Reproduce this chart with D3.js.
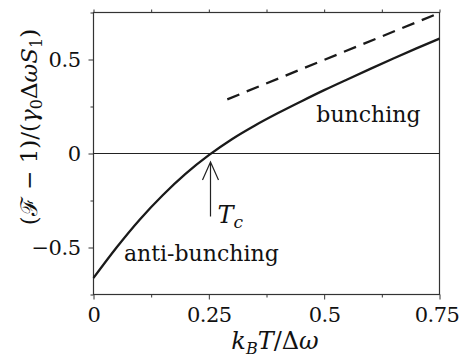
<!DOCTYPE html>
<html>
<head>
<meta charset="utf-8">
<script src="https://cdnjs.cloudflare.com/ajax/libs/d3/7.8.5/d3.min.js"></script>
<style>
  body { margin: 0; background: #fff; }
  svg { display: block; }
  svg text { font-family: "DejaVu Serif", serif; fill: #111; }
  .tick text { font-size: 21px; letter-spacing: -0.5px; }
  .tick line { stroke: #333; }
  .curve { fill: none; stroke: #1a1a1a; stroke-width: 2.3; }
</style>
</head>
<body>
<script>
// solid curve: (F-1)/(gamma0 dw S1) vs kB T / dw
const temp   = [0, 0.05, 0.1, 0.15, 0.2, 0.25, 0.3, 0.35, 0.4, 0.45, 0.5, 0.55, 0.6, 0.65, 0.7, 0.75];
const excess = [-0.662, -0.5, -0.352, -0.222, -0.107, -0.009, 0.076, 0.149, 0.215, 0.277, 0.337, 0.394, 0.45, 0.505, 0.559, 0.611];

// dashed high-temperature asymptote
const asymTemp   = [0.29, 0.75];
const asymExcess = [0.288, 0.748];

const xTicks = [0, 0.25, 0.5, 0.75];
const xTickLabels = ["0", "0.25", "0.5", "0.75"];
const xMinor = [0.125, 0.375, 0.625];
const yTicks = [-0.5, 0, 0.5];
const yTickLabels = ["\u22120.5", "0", "0.5"];
const yMinor = [-0.75, -0.25, 0.25, 0.75];
const tc = 0.254;

const W = 461, H = 358;
const margin = {top: 12, right: 22, bottom: 64, left: 93};
const width = W - margin.left - margin.right,
      height = H - margin.top - margin.bottom;

const svg = d3.select("body").append("svg")
  .attr("width", W).attr("height", H);
const g = svg.append("g")
  .attr("transform", "translate(" + (margin.left + 0.5) + "," + (margin.top + 0.5) + ")");

const x = d3.scaleLinear().domain([0, 0.75]).range([0, width]);
const y = d3.scaleLinear().domain([-0.75, 0.75]).range([height, 0]);

// axes (ticks outward, labels placed by hand)
g.append("g").attr("transform", "translate(0," + height + ")")
  .call(d3.axisBottom(x).tickValues(xMinor).tickSize(3).tickFormat(""));
const xa = g.append("g").attr("transform", "translate(0," + height + ")")
  .call(d3.axisBottom(x).tickValues(xTicks).tickSize(5)
    .tickFormat((d, i) => xTickLabels[i]));
xa.selectAll("text").attr("y", 27).attr("dy", 0)
  .attr("dx", d => d === 0.75 ? -3 : 0);

g.append("g")
  .call(d3.axisTop(x).tickValues(xMinor.concat(xTicks)).tickSize(3).tickFormat(""));

g.append("g")
  .call(d3.axisLeft(y).tickValues(yMinor).tickSize(3).tickFormat(""));
g.append("g")
  .call(d3.axisLeft(y).tickValues(yTicks).tickSize(5).tickPadding(8)
    .tickFormat((d, i) => yTickLabels[i]));

g.selectAll(".domain").remove();
g.selectAll(".tick text").attr("font-family", null);

g.append("rect")
  .attr("width", width).attr("height", height)
  .attr("fill", "none").attr("stroke", "#333").attr("stroke-width", 1.2);

// zero line
g.append("line")
  .attr("x1", 0).attr("x2", width)
  .attr("y1", y(0)).attr("y2", y(0))
  .attr("stroke", "#222").attr("stroke-width", 1.2);

const line = d3.line()
  .x(d => x(d[0])).y(d => y(d[1]))
  .curve(d3.curveMonotoneX);

g.append("path")
  .datum(temp.map((t, i) => [t, excess[i]]))
  .attr("class", "curve")
  .attr("d", line);

g.append("path")
  .datum(asymTemp.map((t, i) => [t, asymExcess[i]]))
  .attr("class", "curve")
  .attr("stroke-dasharray", "13,8")
  .attr("d", line);

// arrow marking Tc
const ax = Math.round(x(tc)), aTop = y(-0.045), aBot = y(-0.335);
g.append("path")
  .attr("d", "M" + ax + "," + aBot + "V" + aTop +
    "M" + (ax - 8) + "," + (aTop + 18) + "L" + ax + "," + aTop + "L" + (ax + 8) + "," + (aTop + 18))
  .attr("fill", "none").attr("stroke", "#222").attr("stroke-width", 1.2);

const tcl = g.append("text")
  .attr("x", ax + 7).attr("y", aBot + 7)
  .style("font-size", "24px");
tcl.append("tspan").style("font-style", "italic").text("T");
tcl.append("tspan").style("font-style", "italic").style("font-size", "17px")
  .attr("dy", 5).text("c");

// region labels
g.append("text")
  .attr("x", x(0.483)).attr("y", y(0.17))
  .style("font-size", "22px").text("bunching");
g.append("text")
  .attr("x", x(0.066)).attr("y", y(-0.57))
  .style("font-size", "22px").text("anti-bunching");

// x axis title
const xt = svg.append("text")
  .attr("x", 275).attr("y", 349)
  .attr("text-anchor", "middle")
  .style("font-size", "24px");
xt.append("tspan").style("font-style", "italic").text("k");
xt.append("tspan").style("font-style", "italic").style("font-size", "16px")
  .attr("dy", 5).text("B");
xt.append("tspan").style("font-style", "italic").attr("dy", -5).text("T");
xt.append("tspan").text("/\u0394");
xt.append("tspan").style("font-style", "italic").text("\u03c9");

// y axis title
const yt = svg.append("text")
  .attr("transform", "translate(37,127) rotate(-90)")
  .attr("text-anchor", "middle")
  .style("font-size", "23px");
yt.append("tspan").text("(");
yt.append("tspan").text("\u2131");
yt.append("tspan").text(" \u2212 1)/(");
yt.append("tspan").style("font-style", "italic").text("\u03b3");
yt.append("tspan").style("font-size", "16px").attr("dy", 5).text("0");
yt.append("tspan").attr("dy", -5).text("\u0394");
yt.append("tspan").style("font-style", "italic").text("\u03c9S");
yt.append("tspan").style("font-size", "16px").attr("dy", 5).text("1");
yt.append("tspan").attr("dy", -5).text(")");
</script>
</body>
</html>
